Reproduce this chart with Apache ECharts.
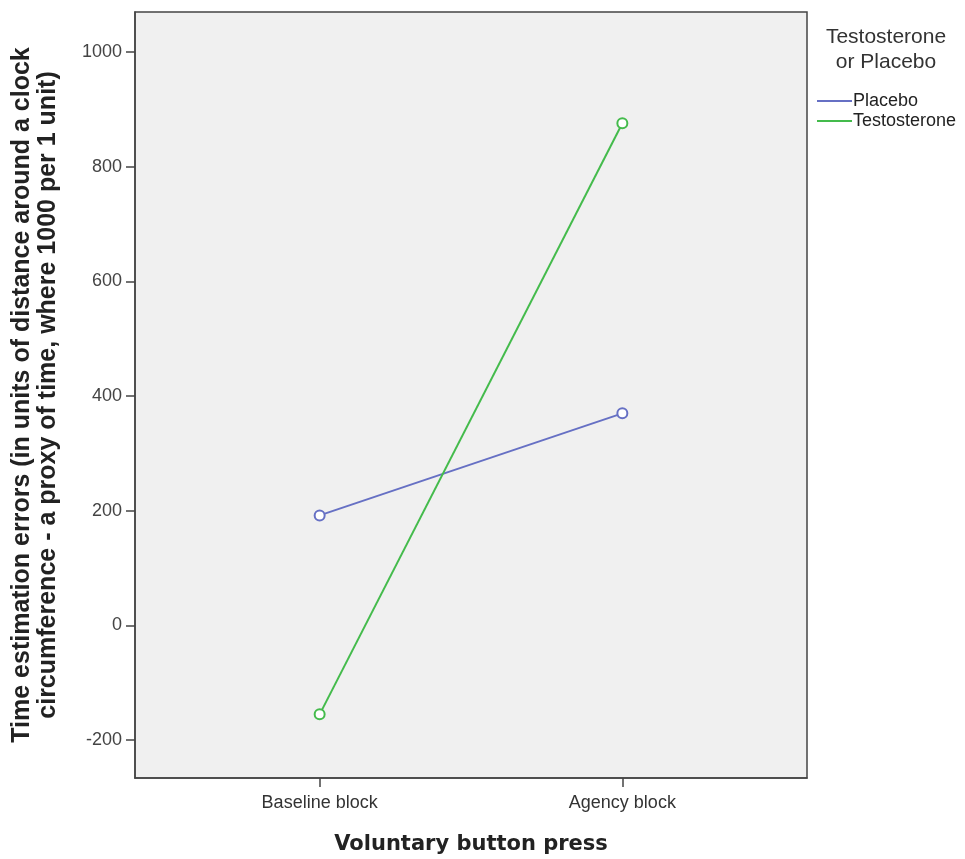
<!DOCTYPE html>
<html lang="en">
<head>
    <meta charset="UTF-8">
    <title>Time estimation errors</title>
    <script src="https://cdn.jsdelivr.net/npm/echarts@6/dist/echarts.min.js"></script>
    <style>
        * { margin: 0; padding: 0; }
        body { background: #fff; }
        #chart { width: 965px; height: 859px; }
    </style>
</head>
<body>
    <div id="chart"></div>
<script>
    // data
    var categories = ["Baseline block", "Agency block"];
    var placebo = [192, 370];
    var testosterone = [-155, 876];
    var yTicks = [-200, 0, 200, 400, 600, 800, 1000];

    var chart = echarts.init(document.getElementById("chart"));

    function toPoints(vals) {
        return vals.map(function (v, i) { return [i, v]; });
    }

    var font = "Liberation Sans";

    chart.setOption({
        animation: false,
        backgroundColor: "#fff",
        title: {
            text: "Testosterone\nor Placebo",
            left: 881,
            top: 20,
            textAlign: "center",
            textStyle: { fontFamily: font, fontSize: 21, fontWeight: "normal", color: "#333", lineHeight: 25 }
        },
        legend: {
            orient: "vertical",
            left: 812,
            top: 87,
            itemWidth: 35,
            itemHeight: 10,
            itemGap: 2,
            icon: "path://M0,4 L35,4 L35,6 L0,6 Z",
            textStyle: { fontFamily: font, fontSize: 18, color: "#222", padding: [0, 0, 0, -4] },
            data: ["Placebo", "Testosterone"]
        },
        grid: {
            left: 135, top: 12, width: 672, height: 766,
            outerBoundsMode: "none",
            containLabel: false,
            show: true, backgroundColor: "#f0f0f0", borderColor: "#444", borderWidth: 1.5
        },
        xAxis: {
            type: "value",
            min: -0.61, max: 1.61,
            name: "Voluntary button press",
            nameLocation: "middle",
            nameGap: 56,
            nameTextStyle: { fontFamily: "DejaVu Sans", fontSize: 21, fontWeight: "bold", color: "#222" },
            axisLine: { onZero: false, lineStyle: { color: "#444", width: 1.5 } },
            axisTick: { show: true, length: 9, lineStyle: { color: "#444", width: 1.5 }, customValues: [0, 1] },
            axisLabel: {
                customValues: [0, 1],
                margin: 16,
                fontFamily: font, fontSize: 18, color: "#333",
                formatter: function (v) { return categories[Math.round(v)] || ""; }
            },
            splitLine: { show: false }
        },
        yAxis: {
            type: "value",
            min: -266, max: 1070,
            name: "Time estimation errors (in units of distance around a clock\ncircumference - a proxy of time, where 1000 per 1 unit)",
            nameLocation: "middle",
            nameGap: 74,
            nameTextStyle: { fontFamily: font, fontSize: 25, fontWeight: "bold", color: "#222", lineHeight: 26 },
            axisLine: { show: true, onZero: false, lineStyle: { color: "#444", width: 1.5 } },
            axisTick: { show: true, length: 9, lineStyle: { color: "#444", width: 1.5 }, customValues: yTicks },
            axisLabel: {
                customValues: yTicks, margin: 13, fontFamily: font, fontSize: 18, color: "#444",
                formatter: function (v) { return String(v); }
            },
            splitLine: { show: false }
        },
        series: [
            {
                name: "Placebo",
                type: "line",
                data: toPoints(placebo),
                symbol: "emptyCircle",
                symbolSize: 10,
                color: "#6670c4",
                lineStyle: { width: 2, color: "#6670c4" },
                itemStyle: { color: "#6670c4", borderWidth: 1.5 }
            },
            {
                name: "Testosterone",
                type: "line",
                data: toPoints(testosterone),
                symbol: "emptyCircle",
                symbolSize: 10,
                color: "#44bb4c",
                lineStyle: { width: 2, color: "#44bb4c" },
                itemStyle: { color: "#44bb4c", borderWidth: 1.5 }
            }
        ]
    });
</script>
</body>
</html>
